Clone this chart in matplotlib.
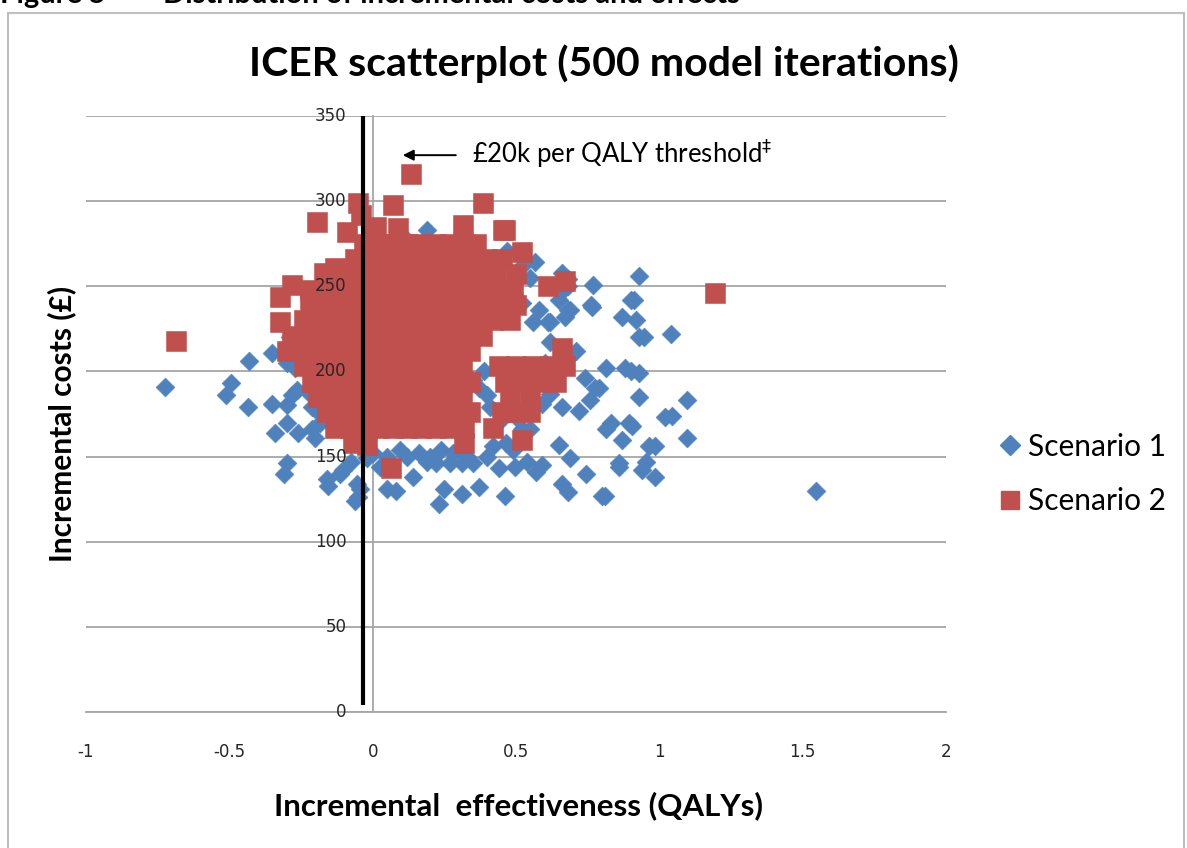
import matplotlib
matplotlib.use("Agg")
import matplotlib.pyplot as plt
from matplotlib.lines import Line2D
from matplotlib.patches import Rectangle
from matplotlib.transforms import ScaledTranslation

# ---- data: incremental effectiveness (QALYs) and incremental costs (GBP) ----
s1_qaly = [
    -0.725, -0.495, -0.51, -0.435, -0.43, -0.35, -0.35, -0.30, -0.28, -0.30, -0.34, -0.26,
    -0.30, -0.31, -0.20, -0.185, -0.185, -0.16, -0.157, -0.105, -0.075, -0.055, -0.05, -0.02,
    -0.22, -0.265, -0.305, -0.21, -0.21, -0.29, -0.27, -0.30, -0.02,
    0.095, 0.025, 0.05, 0.08, 0.14, -0.045, -0.06, -0.115, 0.23, 0.25, 0.31, 0.37, 0.31,
    0.27, 0.22, 0.19, 0.35, 0.40, 0.44, 0.495, 0.54, 0.59, 0.57, 0.46, 0.42, 0.465, 0.49,
    0.52, 0.45, 0.50, 0.59, 0.62, 0.55, 0.65, 0.69, 0.745, 0.66, 0.68, 0.80, 0.86, 0.40,
    0.41, 0.35, 0.37, 0.39, 0.00, 0.05, 0.12, 0.16, 0.20, 0.24, 0.28, 0.33,
    0.19, 0.12, 0.47, 0.565, 0.66, 0.77, 0.37, 0.67, 0.76, 0.69, 0.62, 0.87, 0.90, 0.56,
    0.40, 0.93, 0.91, 0.92, 0.93, 0.945, 1.04, 0.815, 0.90, 0.93, 0.79, 0.93, 1.095, 0.83,
    0.815, 0.895, 0.905, 1.02, 1.045, 0.87, 1.095, 0.965, 0.985, 0.86, 0.955, 0.94, 0.985,
    0.81, 1.545, 0.765, 0.68, 0.67, 0.61, 0.775, 0.757, 0.66, 0.72, 0.71, 0.68, 0.62, 0.68,
    0.68, 0.88, 0.52, 0.55, 0.60, 0.63, 0.74, 0.34, 0.58, 0.52, 0.65,
    0.10, 0.20, 0.05, 0.25, 0.15, 0.30, -0.10, 0.00,
]
s1_cost = [
    191, 193, 186, 179, 206, 211, 181, 180, 186, 170, 164, 164,
    146, 140, 161, 170, 175, 137, 133, 142, 147, 134, 126, 149,
    187, 189, 212, 179, 166, 220, 202, 205, 262,
    154, 144, 131, 130, 138, 131, 124, 140, 122, 131, 128, 132, 146,
    146, 146, 147, 146, 150, 143, 144, 147, 145, 141, 127, 156, 158, 154,
    166, 172, 173, 181, 187, 166, 157, 149, 140, 134, 129, 127, 146, 186,
    179, 195, 190, 200, 152, 150, 150, 152, 150, 154, 152, 150,
    283, 277, 271, 264, 258, 251, 264, 249, 239, 236, 229, 232, 242, 229,
    249, 256, 242, 230, 220, 220, 222, 202, 200, 199, 190, 185, 183, 170,
    166, 170, 168, 173, 174, 160, 161, 156, 156, 144, 147, 142, 138,
    127, 130, 238, 236, 232, 229, 190, 183, 179, 177, 212, 208, 217, 254,
    250, 202, 262, 255, 205, 197, 196, 254, 236, 240, 242,
    200, 210, 230, 190, 240, 220, 200, 185,
]

s2_qaly = [
    -0.05, 0.07, 0.385, 0.135,
    -0.195, -0.04, 0.01, 0.09, 0.315, 0.455,
    -0.09, 0.00,
    -0.03, 0.02, 0.07, 0.12, 0.17, 0.22, 0.27, 0.32, 0.36, 0.46, 0.52,
    -0.13, -0.06, -0.01, 0.04, 0.09, 0.14, 0.19, 0.24, 0.29, 0.34, 0.40, 0.45,
    -0.17, -0.12, -0.07, -0.02, 0.03, 0.08, 0.13, 0.18, 0.23, 0.28, 0.33, 0.38, 0.43, 0.50,
    -0.28, -0.22, -0.17, -0.12, -0.07, -0.02, 0.03, 0.08, 0.13, 0.18, 0.23, 0.28, 0.33,
    0.38, 0.43, 0.49, 0.61, 0.67,
    -0.325,
    -0.22, -0.17, -0.12, -0.07, -0.02, 0.03, 0.08, 0.13, 0.18, 0.23, 0.28, 0.33, 0.38,
    0.44, 0.50,
    -0.325, -0.24, -0.19, -0.14, -0.09, -0.04, 0.01, 0.06, 0.11, 0.16, 0.21, 0.26, 0.31,
    0.36, 0.42, 0.48,
    -0.28, -0.23, -0.18, -0.13, -0.08, -0.03, 0.02, 0.07, 0.12, 0.17, 0.22, 0.27, 0.32,
    0.38,
    -0.30, -0.25, -0.20, -0.15, -0.10, -0.05, 0.00, 0.05, 0.10, 0.15, 0.20, 0.25, 0.30,
    0.34, 0.66,
    -0.685,
    -0.24, -0.19, -0.14, -0.09, -0.04, 0.01, 0.06, 0.11, 0.16, 0.21, 0.26, 0.31,
    0.44, 0.50, 0.56, 0.62, 0.67,
    -0.21, -0.16, -0.11, -0.06, -0.01, 0.04, 0.09, 0.14, 0.19, 0.24, 0.29, 0.34,
    0.46, 0.52, 0.58, 0.64,
    -0.19, -0.14, -0.09, -0.04, 0.01, 0.06, 0.11, 0.16, 0.21, 0.26, 0.31, 0.48, 0.55,
    -0.16, -0.11, -0.06, -0.01, 0.04, 0.09, 0.14, 0.19, 0.24, 0.29, 0.34, 0.45, 0.50, 0.55,
    -0.13, -0.08, -0.03, 0.02, 0.07, 0.12, 0.17, 0.22, 0.27, 0.32, 0.42,
    -0.07, -0.02, 0.32, 0.52,
    0.065, 1.195,
]
s2_cost = [
    299, 298, 299, 316,
    288, 292, 285, 284, 286, 283,
    282, 280,
    275, 275, 275, 275, 275, 275, 275, 275, 275, 283, 270,
    261, 266, 266, 266, 266, 266, 266, 266, 266, 266, 266, 266,
    258, 257, 257, 257, 257, 257, 257, 257, 257, 257, 257, 257, 257, 257,
    251, 248, 248, 248, 248, 248, 248, 248, 248, 248, 248, 248, 248,
    248, 248, 248, 250, 253,
    244,
    239, 239, 239, 239, 239, 239, 239, 239, 239, 239, 239, 239, 239,
    239, 239,
    229, 230, 230, 230, 230, 230, 230, 230, 230, 230, 230, 230, 230,
    230, 230, 230,
    221, 221, 221, 221, 221, 221, 221, 221, 221, 221, 221, 221, 221,
    221,
    212, 212, 212, 212, 212, 212, 212, 212, 212, 212, 212, 212, 212,
    212, 214,
    218,
    203, 203, 203, 203, 203, 203, 203, 203, 203, 203, 203, 203,
    203, 203, 203, 203, 203,
    194, 194, 194, 194, 194, 194, 194, 194, 194, 194, 194, 194,
    194, 194, 194, 194,
    185, 185, 185, 185, 185, 185, 185, 185, 185, 185, 185, 185, 185,
    176, 176, 176, 176, 176, 176, 176, 176, 176, 176, 176, 176, 176, 176,
    167, 167, 167, 167, 167, 167, 167, 167, 167, 167, 167,
    158, 157, 158, 160,
    143, 246,
]

x_ticks = [-1, -0.5, 0, 0.5, 1, 1.5, 2]
x_tick_labels = ["-1", "-0.5", "0", "0.5", "1", "1.5", "2"]
y_ticks = [0, 50, 100, 150, 200, 250, 300, 350]

threshold_qaly = [-0.035, -0.035]
threshold_cost = [4, 350]

BLUE = "#4F81BD"
RED = "#C0504D"
GRID = "#A6A6A6"
TEXT_FONT = ["Lato", "DejaVu Sans"]
TICK_FONT = ["DejaVu Sans"]

fig = plt.figure(figsize=(11.87, 8.48), dpi=100)
ax = fig.add_axes([86 / 1187, 1 - 712 / 848, 860 / 1187, 596 / 848])

ax.scatter(s1_qaly, s1_cost, marker="D", s=92, color=BLUE, edgecolors=BLUE,
           linewidths=0.4, zorder=3, label="Scenario 1")
ax.scatter(s2_qaly, s2_cost, marker="s", s=200, color=RED, edgecolors=RED,
           linewidths=0.4, zorder=4, label="Scenario 2")

ax.plot(threshold_qaly, threshold_cost, color="black", lw=3.0, zorder=5,
        solid_capstyle="butt")

ax.set_xlim(-1, 2)
ax.set_ylim(0, 350)
ax.set_xticks(x_ticks)
ax.set_xticklabels(x_tick_labels, family=TICK_FONT)
ax.set_yticks(y_ticks)
ax.set_yticklabels([])

ax.grid(axis="y", color=GRID, lw=1.3, zorder=0)
ax.set_axisbelow(True)
for side in ("top", "right"):
    ax.spines[side].set_visible(False)
ax.spines["left"].set_position(("data", 0))
ax.spines["left"].set_color(GRID)
ax.spines["left"].set_linewidth(1.3)
ax.spines["bottom"].set_color(GRID)
ax.spines["bottom"].set_linewidth(1.3)
ax.tick_params(axis="x", length=0, pad=22, labelsize=12, labelcolor="#262626")
ax.tick_params(axis="y", length=0)

# cost labels sit beside the y axis (drawn at x = 0), above the markers
shift = ScaledTranslation(-26 / 100, 0, fig.dpi_scale_trans)
for v in y_ticks:
    ax.text(0, v, str(v), transform=ax.transData + shift, ha="right", va="center",
            fontsize=12, family=TICK_FONT, color="#262626", zorder=6)

ax.annotate("", xy=(0.105, 327), xytext=(0.29, 327),
            arrowprops=dict(arrowstyle="-|>", color="black", lw=1.4,
                            mutation_scale=16, shrinkA=0, shrinkB=0))
ax.text(0.345, 328, "£20k per QALY threshold$^{\\ddag}$", fontsize=18.5,
        family=TEXT_FONT, va="center", ha="left")

fig.text(604 / 1187, 1 - 64 / 848, "ICER scatterplot (500 model iterations)",
         fontsize=29.5, fontweight="bold", family=TEXT_FONT, ha="center", va="center")
fig.text(62 / 1187, 1 - 424 / 848, "Incremental costs (£)", fontsize=21.5,
         fontweight="bold", family=TEXT_FONT, rotation=90, ha="center", va="center")
fig.text(519 / 1187, 1 - 806 / 848, "Incremental  effectiveness (QALYs)", fontsize=22.5,
         fontweight="bold", family=TEXT_FONT, ha="center", va="center")

fig.text(0.0, 1 - 3 / 848, "Figure 5        Distribution of incremental costs and effects",
         fontsize=21, fontweight="bold", family=TEXT_FONT, ha="left", va="baseline")

handles = [
    Line2D([], [], marker="D", ls="none", color=BLUE, markersize=10),
    Line2D([], [], marker="s", ls="none", color=RED, markersize=13.5),
]
fig.legend(handles, ["Scenario 1", "Scenario 2"], loc="center left",
           bbox_to_anchor=(995 / 1187, 1 - 474 / 848), frameon=False,
           prop={"family": TEXT_FONT, "size": 21.5}, handletextpad=0.1,
           labelspacing=0.9, handlelength=1.0, borderaxespad=0, borderpad=0)

fig.patches.append(Rectangle((8 / 1187, -0.05), 1176 / 1187, 1.05 - 13 / 848,
                             transform=fig.transFigure, fill=False,
                             edgecolor="#BFBFBF", lw=1.5))

fig.savefig("out.png", dpi=100)
